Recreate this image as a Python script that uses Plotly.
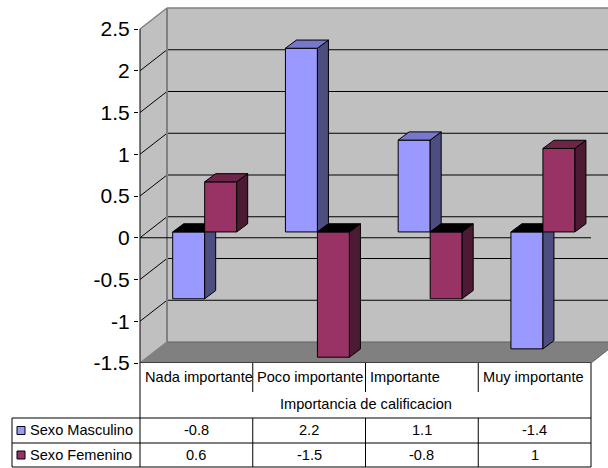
import plotly.graph_objects as go

# ---- data -------------------------------------------------------------
categories = ["Nada importante", "Poco importante", "Importante", "Muy importante"]
axis_title = "Importancia de calificacion"
series_names = ["Sexo Masculino", "Sexo Femenino"]
masculino = [-0.8, 2.2, 1.1, -1.4]
femenino = [0.6, -1.5, -0.8, 1]
y_ticks = [-1.5, -1, -0.5, 0, 0.5, 1, 1.5, 2, 2.5]

# ---- styling ----------------------------------------------------------
FONT = "Liberation Sans, Arial, sans-serif"
front_colors = ["#9999FF", "#993366"]
top_colors = ["#7777CC", "#6E2549"]
side_colors = ["#4D4D80", "#4D1A33"]
WALL = "#C0C0C0"
FLOOR = "#808080"
EDGE = "#808080"

# ---- page geometry (pixels) ------------------------------------------
W, H = 608, 468
L, R, T, B = 139, 608, 7, 363          # plot area
FRONT_X = 140                            # front plane left edge
CAT_PX = 112.75                          # pixels per category
UNIT_PX = 83.5                           # pixels per value unit
Y_MIN, Y_MAX = y_ticks[0], y_ticks[-1]

x0 = -0.5 - (FRONT_X - L) / CAT_PX
x1 = x0 + (R - L) / CAT_PX
y0 = Y_MIN
y1 = Y_MIN + (B - T) / UNIT_PX

def ox(p):  # pixel offset -> category units
    return p / CAT_PX

def oy(p):  # pixel offset -> value units
    return p / UNIT_PX

# 3-D depth offsets
WDX, WDY = ox(27), oy(21)        # back wall
BDX, BDY = ox(8.3), oy(5.8)      # bar front face
TDX, TDY = ox(11), oy(8.2)       # bar thickness
BAR_W = 32 / CAT_PX

def xp(px):
    return (px - L) / (R - L)

def yp(py):
    return (B - py) / (B - T)

fig = go.Figure()

# ---- bars with their top and side faces ------------------------------
for s, (name, vals) in enumerate(zip(series_names, [masculino, femenino])):
    xa, ya = f"x{s + 2}", f"y{s + 2}"
    offset = -BAR_W if s == 0 else 0.0
    xs = list(range(len(categories)))
    fig.add_trace(go.Bar(
        x=xs, y=vals, name=name, width=BAR_W, offset=offset,
        marker=dict(color=front_colors[s], line=dict(color="black", width=1)),
        xaxis=xa, yaxis=ya, hoverinfo="skip", showlegend=False,
    ))
    side_x, side_y = [], []
    topp_x, topp_y = [], []
    topn_x, topn_y = [], []
    for i, v in enumerate(vals):
        xl = i + offset
        xr = xl + BAR_W
        lo, hi = min(0, v), max(0, v)
        side_x += [xr, xr, xr + TDX, xr + TDX, xr, None]
        side_y += [lo, hi, hi + TDY, lo + TDY, lo, None]
        tx = [xl, xr, xr + TDX, xl + TDX, xl, None]
        ty = [hi, hi, hi + TDY, hi + TDY, hi, None]
        if v >= 0:
            topp_x += tx
            topp_y += ty
        else:
            topn_x += tx
            topn_y += ty
    for fx, fy, col in [(side_x, side_y, side_colors[s]),
                        (topp_x, topp_y, top_colors[s]),
                        (topn_x, topn_y, "#000000")]:
        if fx:
            fig.add_trace(go.Scatter(
                x=fx, y=fy, mode="lines", fill="toself", fillcolor=col,
                line=dict(color="black", width=1), xaxis=xa, yaxis=ya,
                hoverinfo="skip", showlegend=False,
            ))

# ---- walls, floor and gridlines --------------------------------------
shapes = []
xl_front, xr_front = -0.5, len(categories) - 0.5
bx = xl_front + WDX

def poly(pts, fill, line_color=None, width=0):
    path = "M " + " L ".join(f"{a},{b}" for a, b in pts) + " Z"
    return dict(type="path", path=path, xref="x", yref="y", layer="below",
                fillcolor=fill, line=dict(color=line_color or fill, width=width))

def seg(xa_, ya_, xb_, yb_, color="black", width=1):
    return dict(type="line", x0=xa_, y0=ya_, x1=xb_, y1=yb_, xref="x", yref="y",
                layer="below", line=dict(color=color, width=width))

shapes.append(poly([(bx, Y_MIN + WDY), (x1 + 1, Y_MIN + WDY),
                    (x1 + 1, Y_MAX + WDY), (bx, Y_MAX + WDY)], WALL))
shapes.append(poly([(xl_front, Y_MIN), (xl_front, Y_MAX),
                    (bx, Y_MAX + WDY), (bx, Y_MIN + WDY)], WALL))
shapes.append(poly([(xl_front, Y_MIN), (xr_front, Y_MIN),
                    (xr_front + WDX, Y_MIN + WDY), (bx, Y_MIN + WDY)], FLOOR))

for v in y_ticks:
    edge = v in (Y_MIN, Y_MAX)
    col = EDGE if edge else "black"
    wid = 1.5 if edge else 1
    if v != Y_MIN:
        shapes.append(seg(bx, v + WDY, x1 + 1, v + WDY, col, wid))
    shapes.append(seg(xl_front, v, bx, v + WDY, col, wid))
shapes.append(seg(bx, Y_MIN + WDY, x1 + 1, Y_MIN + WDY, "#606060", 1))
shapes.append(seg(bx, Y_MIN + WDY, bx, Y_MAX + WDY, EDGE, 2))
shapes.append(seg(xr_front, Y_MIN, xr_front + WDX, Y_MIN + WDY, "#606060", 1))
# front axis line, zero line, front floor edge
shapes.append(seg(xl_front, Y_MIN, xl_front, Y_MAX, "black", 1))
shapes.append(seg(xl_front, 0, xr_front, 0, "black", 1))
shapes.append(seg(xl_front, Y_MIN, xr_front, Y_MIN, "black", 1))

# ---- data table -------------------------------------------------------
def pline(xa_, ya_, xb_, yb_):
    return dict(type="line", x0=xp(xa_), y0=yp(ya_), x1=xp(xb_), y1=yp(yb_),
                xref="paper", yref="paper", line=dict(color="black", width=1))

table_l, table_r = FRONT_X, FRONT_X + CAT_PX * len(categories)
row_top, row_mid, row_bot = 418, 443, 467
shapes.append(pline(table_l, B, table_l, row_bot))
shapes.append(pline(table_r, B, table_r, row_bot))
for k in range(1, len(categories)):
    xc = table_l + k * CAT_PX
    shapes.append(pline(xc, B, xc, 392))
    shapes.append(pline(xc, row_top, xc, row_bot))
for yy in (row_top, row_mid, row_bot):
    shapes.append(pline(12, yy, table_r, yy))
shapes.append(pline(12, row_top, 12, row_bot))

annotations = []
tfont = dict(family=FONT, size=14.6, color="black")
for i, c in enumerate(categories):
    annotations.append(dict(text=c, x=xp(table_l + i * CAT_PX + 2.5), y=yp(377),
                            xref="paper", yref="paper", xanchor="left",
                            yanchor="middle", showarrow=False, font=tfont))
annotations.append(dict(text=axis_title, x=xp((table_l + table_r) / 2), y=yp(404),
                        xref="paper", yref="paper", xanchor="center",
                        yanchor="middle", showarrow=False, font=tfont))
row_centers = [(row_top + row_mid) / 2, (row_mid + row_bot) / 2]
for s, (name, vals) in enumerate(zip(series_names, [masculino, femenino])):
    yc = row_centers[s]
    shapes.append(dict(type="rect", x0=xp(17), x1=xp(25), y0=yp(yc + 4), y1=yp(yc - 4),
                       xref="paper", yref="paper", fillcolor=front_colors[s],
                       line=dict(color="black", width=1)))
    annotations.append(dict(text=name, x=xp(28), y=yp(yc), xref="paper", yref="paper",
                            xanchor="left", yanchor="middle", showarrow=False,
                            font=tfont))
    for i, v in enumerate(vals):
        annotations.append(dict(text=f"{v:g}", x=xp(table_l + (i + 0.5) * CAT_PX),
                                y=yp(yc), xref="paper", yref="paper",
                                xanchor="center", yanchor="middle",
                                showarrow=False, font=tfont))

# ---- axes -------------------------------------------------------------
hidden = dict(visible=False, showgrid=False, zeroline=False, fixedrange=True)
fig.update_layout(
    width=W, height=H,
    margin=dict(l=L, r=W - R, t=T, b=H - B, pad=0),
    paper_bgcolor="white", plot_bgcolor="white",
    showlegend=False,
    xaxis=dict(range=[x0, x1], **hidden),
    yaxis=dict(range=[y0, y1], tickvals=y_ticks,
               ticktext=[f"{v:g}" for v in y_ticks],
               ticks="outside", ticklen=4, tickcolor="black", tickwidth=1,
               showgrid=False, zeroline=False, showline=False,
               tickfont=dict(family=FONT, size=21, color="black"), fixedrange=True),
    xaxis2=dict(range=[x0 - BDX, x1 - BDX], overlaying="x", anchor="y2", **hidden),
    yaxis2=dict(range=[y0 - BDY, y1 - BDY], overlaying="y", anchor="x2", **hidden),
    xaxis3=dict(range=[x0 - BDX, x1 - BDX], overlaying="x", anchor="y3", **hidden),
    yaxis3=dict(range=[y0 - BDY, y1 - BDY], overlaying="y", anchor="x3", **hidden),
    shapes=shapes,
    annotations=annotations,
)

fig.write_html("out.html")
